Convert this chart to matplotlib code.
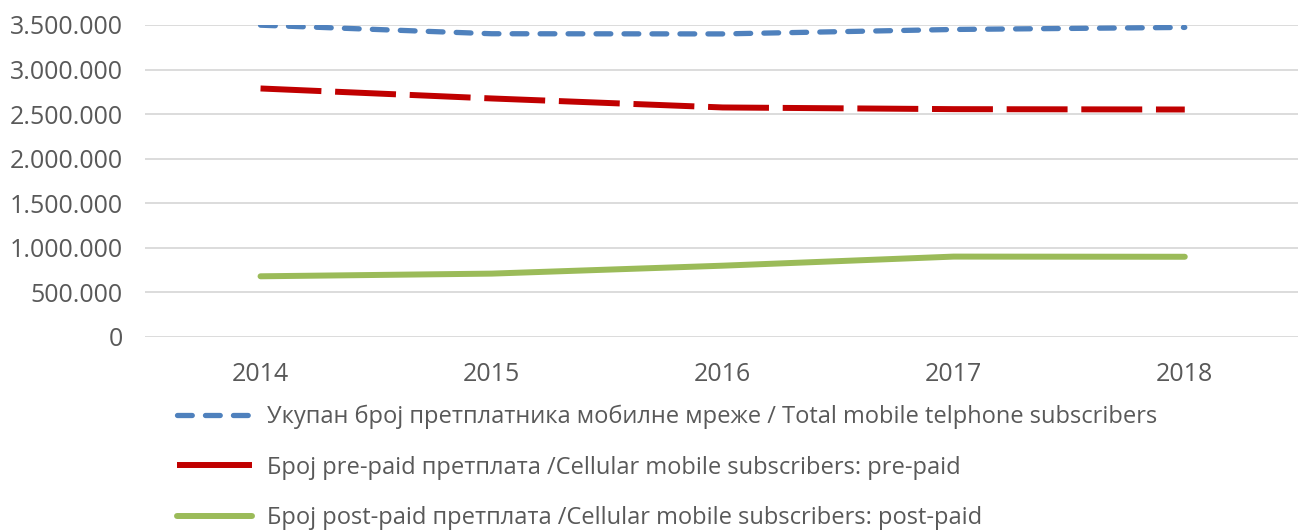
import matplotlib
matplotlib.use("Agg")
import matplotlib.pyplot as plt
from matplotlib.ticker import FuncFormatter, MultipleLocator

plt.rcParams['font.family'] = ['Open Sans', 'DejaVu Sans']

years = ["2014", "2015", "2016", "2017", "2018"]
total = [3498000, 3402000, 3400000, 3450000, 3473000]
prepaid = [2788000, 2676000, 2575000, 2556000, 2552000]
postpaid = [681000, 711000, 800000, 902000, 900000]

labels = [
    "Укупан број претплатника мобилне мреже / Total mobile telphone subscribers",
    "Број pre-paid претплата /Cellular mobile subscribers: pre-paid",
    "Број post-paid претплата /Cellular mobile subscribers: post-paid",
]

GREY = "#595959"

fig = plt.figure(figsize=(12.98, 5.31), dpi=100)
ax = fig.add_axes([145 / 1298, 1 - 337 / 531, 1 - 145 / 1298, (337 - 25) / 531])

x = range(len(years))
ax.plot(x, total, color="#4f81bd", lw=3.8, dashes=(2.8, 2.5),
        dash_capstyle="round", solid_capstyle="round", label=labels[0])
ax.plot(x, prepaid, color="#c00000", lw=4.3, dashes=(10.2, 2.3),
        dash_capstyle="butt", label=labels[1])
ax.plot(x, postpaid, color="#9bbb59", lw=4.3, solid_capstyle="round",
        label=labels[2])

ax.set_xlim(-0.5, 4.49)
ax.set_ylim(0, 3500000)
ax.yaxis.set_major_locator(MultipleLocator(500000))
ax.yaxis.set_major_formatter(FuncFormatter(lambda v, p: f"{int(v):,}".replace(",", ".")))
ax.set_xticks(list(x))
ax.set_xticklabels(years)
ax.grid(axis="y", color="#d9d9d9", lw=1.3)
ax.set_axisbelow(True)
for s in ax.spines.values():
    s.set_visible(False)
ax.tick_params(length=0, labelsize=18, colors=GREY)
ax.tick_params(axis="y", pad=16)
ax.tick_params(axis="x", pad=18)

leg = fig.legend(loc="upper left", bbox_to_anchor=(165 / 1298, 1 - 393 / 531),
                 frameon=False, fontsize=17, handlelength=3.2, handletextpad=0.64,
                 labelspacing=1.12, borderpad=0)
for t in leg.get_texts():
    t.set_color(GREY)
# pre-paid key is drawn as one solid dash
leg.get_lines()[1].set_linestyle("-")
leg.get_lines()[1].set_solid_capstyle("butt")

fig.savefig("out.png", dpi=100)
